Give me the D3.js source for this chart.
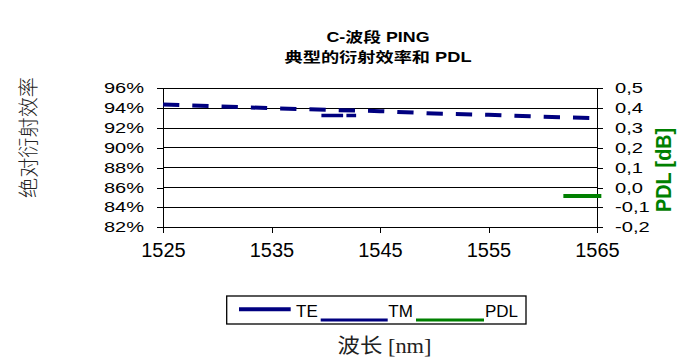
<!DOCTYPE html>
<html>
<head>
<meta charset="utf-8">
<script src="https://cdn.jsdelivr.net/npm/d3@7/dist/d3.min.js"></script>
<style>
  html, body { margin: 0; padding: 0; background: #fff; }
  svg { display: block; }
</style>
</head>
<body>
<script>
// ---------- data ----------
const wavelengths = [1525, 1530, 1535, 1540, 1545, 1550, 1555, 1560, 1565];
const teEfficiency = [0.9437, 0.9418, 0.9400, 0.9383, 0.9370, 0.9346, 0.9333, 0.9313, 0.9300];
const tmWavelengths = [1539.6, 1542.8];
const tmEfficiency = [0.9326, 0.9326];
const pdlWavelengths = [1561.9, 1565.4];
const pdlValues = [-0.042, -0.042];
const xTicks = [1525, 1535, 1545, 1555, 1565];
const leftTicks = [0.82, 0.84, 0.86, 0.88, 0.90, 0.92, 0.94, 0.96];
const rightTicks = [-0.2, -0.1, 0.0, 0.1, 0.2, 0.3, 0.4, 0.5];
const titleLines = ["C-波段 PING", "典型的衍射效率和 PDL"];
const legendLabels = ["TE", "TM", "PDL"];

// ---------- layout ----------
const W = 682, H = 359;
const L = 163, R = 597, T = 88.3, B = 227.3;
const NAVY = "#000080", GREEN = "#008000";
const latin = "'Liberation Sans', Arial, sans-serif";
const cjk = "'Liberation Sans', 'Noto Sans CJK SC', sans-serif";

const svg = d3.select("body").append("svg").attr("width", W).attr("height", H);

const x = d3.scaleLinear().domain([1525, 1565]).range([L, R]);
const yL = d3.scaleLinear().domain([0.82, 0.96]).range([B, T]);
const yR = d3.scaleLinear().domain([-0.2, 0.5]).range([B, T]);

// gridlines
svg.append("g").selectAll("line").data(leftTicks).join("line")
  .attr("x1", L).attr("x2", R)
  .attr("y1", d => yL(d)).attr("y2", d => yL(d))
  .attr("stroke", "#000").attr("stroke-width", 1).attr("shape-rendering", "crispEdges");

function stretch(sel, f) {
  sel.each(function () {
    const len = this.getComputedTextLength();
    d3.select(this).attr("textLength", len * f).attr("lengthAdjust", "spacingAndGlyphs");
  });
}

// left axis
const gL = svg.append("g").attr("transform", `translate(${L},0)`)
  .call(d3.axisLeft(yL).tickValues(leftTicks).tickSize(6).tickSizeOuter(0).tickPadding(13)
    .tickFormat(d => Math.round(d * 100) + "%"));
gL.selectAll("text").attr("font-family", latin).attr("font-size", 14).attr("fill", "#000");
gL.selectAll("line,path").attr("stroke", "#000").attr("shape-rendering", "crispEdges");
stretch(gL.selectAll("text"), 1.43);

// right axis
const gR = svg.append("g").attr("transform", `translate(${R},0)`)
  .call(d3.axisRight(yR).tickValues(rightTicks).tickSize(6).tickSizeOuter(0).tickPadding(12)
    .tickFormat(d => d.toFixed(1).replace(".", ",")));
gR.selectAll("text").attr("font-family", latin).attr("font-size", 14).attr("fill", "#000");
gR.selectAll("line,path").attr("stroke", "#000").attr("shape-rendering", "crispEdges");
stretch(gR.selectAll("text"), 1.44);

// bottom axis
const gB = svg.append("g").attr("transform", `translate(0,${B})`)
  .call(d3.axisBottom(x).tickValues(xTicks).tickSize(6).tickSizeOuter(0).tickPadding(10)
    .tickFormat(d3.format("d")));
gB.selectAll("text").attr("font-family", latin).attr("font-size", 20).attr("fill", "#000");
gB.selectAll("line,path").attr("stroke", "#000").attr("shape-rendering", "crispEdges");

// series
const teLine = d3.line().x((d, i) => x(wavelengths[i])).y(d => yL(d));
svg.append("path").datum(teEfficiency).attr("d", teLine)
  .attr("fill", "none").attr("stroke", NAVY).attr("stroke-width", 4)
  .attr("stroke-dasharray", "16.3,13");

const tmLine = d3.line().x((d, i) => x(tmWavelengths[i])).y(d => yL(d));
svg.append("path").datum(tmEfficiency).attr("d", tmLine)
  .attr("fill", "none").attr("stroke", NAVY).attr("stroke-width", 3.3)
  .attr("stroke-dasharray", "21.7,3.3");

const pdlLine = d3.line().x((d, i) => x(pdlWavelengths[i])).y(d => yR(d));
svg.append("path").datum(pdlValues).attr("d", pdlLine)
  .attr("fill", "none").attr("stroke", GREEN).attr("stroke-width", 4);

// title
const tl = [{ t: titleLines[0], y: 42, w: 103 }, { t: titleLines[1], y: 62, w: 187 }];
svg.selectAll(".title").data(tl).join("text")
  .attr("x", 378).attr("y", d => d.y).attr("text-anchor", "middle")
  .attr("font-family", cjk).attr("font-weight", "bold").attr("font-size", 14)
  .attr("textLength", d => d.w).attr("lengthAdjust", "spacingAndGlyphs")
  .text(d => d.t);

// y titles
svg.append("text")
  .attr("transform", "translate(27,137.5) rotate(-90)")
  .attr("text-anchor", "middle").attr("dominant-baseline", "central")
  .attr("font-family", "'Noto Sans CJK SC', sans-serif").attr("font-size", 20)
  .attr("font-weight", 300).attr("fill", "#222")
  .attr("textLength", 121).attr("lengthAdjust", "spacingAndGlyphs")
  .text("绝对衍射效率");

svg.append("text")
  .attr("transform", "translate(663.5,170) rotate(-90)")
  .attr("text-anchor", "middle").attr("dominant-baseline", "central")
  .attr("font-family", latin).attr("font-size", 22).attr("font-weight", "bold")
  .attr("fill", GREEN)
  .attr("textLength", 84).attr("lengthAdjust", "spacingAndGlyphs")
  .text("PDL [dB]");

// x title
svg.append("text")
  .attr("x", 384.5).attr("y", 353).attr("text-anchor", "middle")
  .attr("font-family", "'Liberation Serif', 'Noto Sans CJK SC', serif").attr("font-size", 20)
  .attr("fill", "#222")
  .attr("textLength", 94).attr("lengthAdjust", "spacingAndGlyphs")
  .text("波长 [nm]");

// legend
const lg = svg.append("g");
lg.append("rect").attr("x", 226.7).attr("y", 296).attr("width", 299.3).attr("height", 28)
  .attr("fill", "#fff").attr("stroke", "#000").attr("stroke-width", 1.3);
const legendItems = [
  { label: legendLabels[0], color: NAVY, x1: 239, x2: 290.7, y: 309.3, w: 4, tx: 296 },
  { label: legendLabels[1], color: NAVY, x1: 320.7, x2: 387.7, y: 320, w: 3, tx: 388.3 },
  { label: legendLabels[2], color: GREEN, x1: 416, x2: 484, y: 320, w: 3, tx: 485 }
];
lg.selectAll("line").data(legendItems).join("line")
  .attr("x1", d => d.x1).attr("x2", d => d.x2).attr("y1", d => d.y).attr("y2", d => d.y)
  .attr("stroke", d => d.color).attr("stroke-width", d => d.w);
lg.selectAll("text").data(legendItems).join("text")
  .attr("x", d => d.tx).attr("y", 317)
  .attr("font-family", latin).attr("font-size", 17).attr("fill", "#000")
  .text(d => d.label);
</script>
</body>
</html>
